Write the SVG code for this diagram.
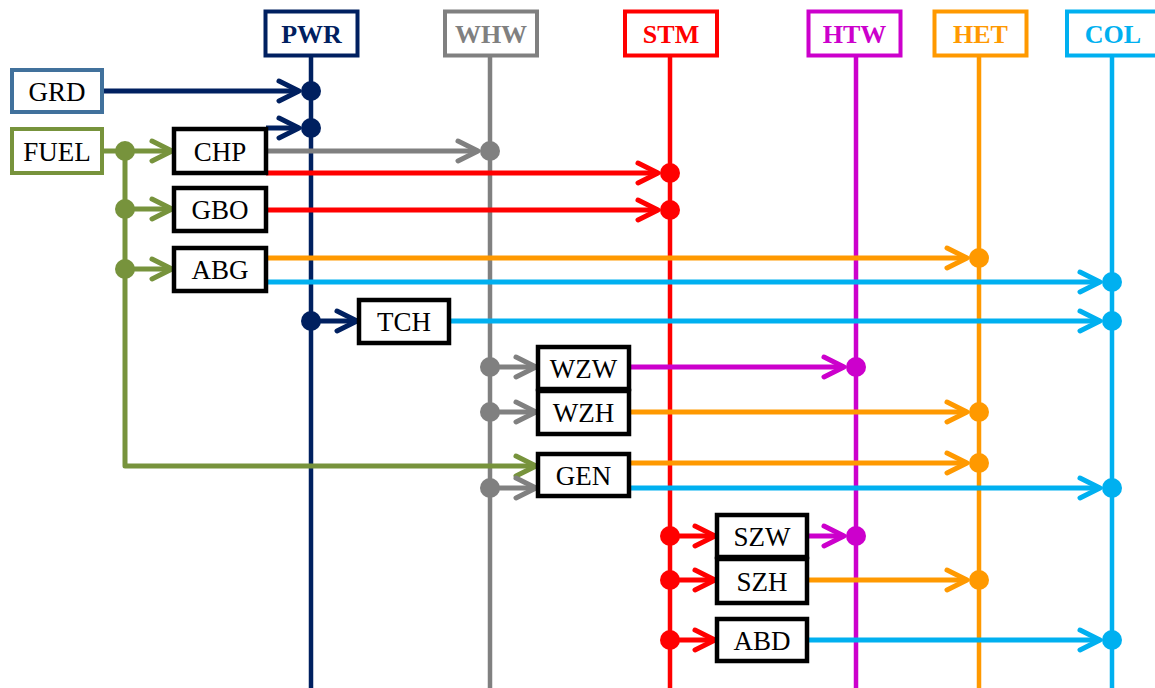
<svg xmlns="http://www.w3.org/2000/svg" width="1155" height="688" viewBox="0 0 1155 688">
<style>
.hdr{fill:#fff;stroke-width:4}
.hl{font-family:"Liberation Serif",serif;font-weight:bold;font-size:26px;text-anchor:middle}
.bx{fill:#fff;stroke:#000;stroke-width:4.5}
.bl{font-family:"Liberation Serif",serif;font-size:27px;text-anchor:middle;fill:#000}
.bus{stroke-width:4.5;fill:none}
.c{stroke-width:5;fill:none}
.navy{stroke:#002060}.gray{stroke:#808080}.red{stroke:#FF0000}.mag{stroke:#CC00CC}.org{stroke:#FF9900}.blu{stroke:#00B0F0}.grn{stroke:#77933C}
</style>
<defs>
<marker id="m-navy" markerUnits="userSpaceOnUse" viewBox="0 0 26 26" markerWidth="26" markerHeight="26" refX="22" refY="13" orient="auto" overflow="visible"><path d="M2,3 L22,13 L2,23" fill="none" stroke="#002060" stroke-width="5" stroke-linecap="round" stroke-linejoin="round"/></marker>
<marker id="m-gray" markerUnits="userSpaceOnUse" viewBox="0 0 26 26" markerWidth="26" markerHeight="26" refX="22" refY="13" orient="auto" overflow="visible"><path d="M2,3 L22,13 L2,23" fill="none" stroke="#808080" stroke-width="5" stroke-linecap="round" stroke-linejoin="round"/></marker>
<marker id="m-red" markerUnits="userSpaceOnUse" viewBox="0 0 26 26" markerWidth="26" markerHeight="26" refX="22" refY="13" orient="auto" overflow="visible"><path d="M2,3 L22,13 L2,23" fill="none" stroke="#FF0000" stroke-width="5" stroke-linecap="round" stroke-linejoin="round"/></marker>
<marker id="m-mag" markerUnits="userSpaceOnUse" viewBox="0 0 26 26" markerWidth="26" markerHeight="26" refX="22" refY="13" orient="auto" overflow="visible"><path d="M2,3 L22,13 L2,23" fill="none" stroke="#CC00CC" stroke-width="5" stroke-linecap="round" stroke-linejoin="round"/></marker>
<marker id="m-org" markerUnits="userSpaceOnUse" viewBox="0 0 26 26" markerWidth="26" markerHeight="26" refX="22" refY="13" orient="auto" overflow="visible"><path d="M2,3 L22,13 L2,23" fill="none" stroke="#FF9900" stroke-width="5" stroke-linecap="round" stroke-linejoin="round"/></marker>
<marker id="m-blu" markerUnits="userSpaceOnUse" viewBox="0 0 26 26" markerWidth="26" markerHeight="26" refX="22" refY="13" orient="auto" overflow="visible"><path d="M2,3 L22,13 L2,23" fill="none" stroke="#00B0F0" stroke-width="5" stroke-linecap="round" stroke-linejoin="round"/></marker>
<marker id="m-grn" markerUnits="userSpaceOnUse" viewBox="0 0 26 26" markerWidth="26" markerHeight="26" refX="22" refY="13" orient="auto" overflow="visible"><path d="M2,3 L22,13 L2,23" fill="none" stroke="#77933C" stroke-width="5" stroke-linecap="round" stroke-linejoin="round"/></marker>
</defs>
<rect width="1155" height="688" fill="#fff"/>

<g id="buses">
<line class="bus navy" x1="311" y1="56" x2="311" y2="688"/>
<line class="bus gray" x1="490" y1="56" x2="490" y2="688"/>
<line class="bus red" x1="670" y1="56" x2="670" y2="688"/>
<line class="bus mag" x1="856" y1="56" x2="856" y2="688"/>
<line class="bus org" x1="979" y1="56" x2="979" y2="688"/>
<line class="bus blu" x1="1112" y1="56" x2="1112" y2="688"/>
</g>

<g id="connectors">
<line class="c navy" x1="104" y1="91" x2="299" y2="91" marker-end="url(#m-navy)"/>
<line class="c navy" x1="266" y1="128" x2="299" y2="128" marker-end="url(#m-navy)"/>
<line class="c grn" x1="102" y1="151" x2="172" y2="151" marker-end="url(#m-grn)"/>
<line class="c grn" x1="125" y1="209" x2="172" y2="209" marker-end="url(#m-grn)"/>
<line class="c grn" x1="125" y1="269" x2="172" y2="269" marker-end="url(#m-grn)"/>
<polyline class="c grn" points="125,151 125,466 536,466" stroke-linejoin="round" marker-end="url(#m-grn)"/>
<line class="c gray" x1="266" y1="151" x2="478" y2="151" marker-end="url(#m-gray)"/>
<line class="c red" x1="266" y1="173" x2="658" y2="173" marker-end="url(#m-red)"/>
<line class="c red" x1="266" y1="210" x2="658" y2="210" marker-end="url(#m-red)"/>
<line class="c org" x1="266" y1="258" x2="967" y2="258" marker-end="url(#m-org)"/>
<line class="c blu" x1="266" y1="282" x2="1100" y2="282" marker-end="url(#m-blu)"/>
<line class="c navy" x1="311" y1="321" x2="357" y2="321" marker-end="url(#m-navy)"/>
<line class="c blu" x1="449" y1="321" x2="1100" y2="321" marker-end="url(#m-blu)"/>
<line class="c gray" x1="490" y1="367" x2="536" y2="367" marker-end="url(#m-gray)"/>
<line class="c mag" x1="629" y1="367" x2="844" y2="367" marker-end="url(#m-mag)"/>
<line class="c gray" x1="490" y1="412" x2="536" y2="412" marker-end="url(#m-gray)"/>
<line class="c org" x1="629" y1="412" x2="967" y2="412" marker-end="url(#m-org)"/>
<line class="c gray" x1="490" y1="488" x2="536" y2="488" marker-end="url(#m-gray)"/>
<line class="c org" x1="629" y1="463" x2="967" y2="463" marker-end="url(#m-org)"/>
<line class="c blu" x1="629" y1="488" x2="1100" y2="488" marker-end="url(#m-blu)"/>
<line class="c red" x1="670" y1="536" x2="715" y2="536" marker-end="url(#m-red)"/>
<line class="c mag" x1="807" y1="536" x2="844" y2="536" marker-end="url(#m-mag)"/>
<line class="c red" x1="670" y1="580" x2="715" y2="580" marker-end="url(#m-red)"/>
<line class="c org" x1="807" y1="580" x2="967" y2="580" marker-end="url(#m-org)"/>
<line class="c red" x1="670" y1="640" x2="715" y2="640" marker-end="url(#m-red)"/>
<line class="c blu" x1="807" y1="640" x2="1100" y2="640" marker-end="url(#m-blu)"/>
<g id="dots">
<circle cx="311" cy="91" r="10" fill="#002060"/>
<circle cx="311" cy="128" r="10" fill="#002060"/>
<circle cx="311" cy="321" r="10" fill="#002060"/>
<circle cx="125" cy="151" r="10" fill="#77933C"/>
<circle cx="125" cy="209" r="10" fill="#77933C"/>
<circle cx="125" cy="269" r="10" fill="#77933C"/>
<circle cx="490" cy="151" r="10" fill="#808080"/>
<circle cx="490" cy="367" r="10" fill="#808080"/>
<circle cx="490" cy="412" r="10" fill="#808080"/>
<circle cx="490" cy="488" r="10" fill="#808080"/>
<circle cx="670" cy="173" r="10" fill="#FF0000"/>
<circle cx="670" cy="210" r="10" fill="#FF0000"/>
<circle cx="670" cy="536" r="10" fill="#FF0000"/>
<circle cx="670" cy="580" r="10" fill="#FF0000"/>
<circle cx="670" cy="640" r="10" fill="#FF0000"/>
<circle cx="856" cy="367" r="10" fill="#CC00CC"/>
<circle cx="856" cy="536" r="10" fill="#CC00CC"/>
<circle cx="979" cy="258" r="10" fill="#FF9900"/>
<circle cx="979" cy="412" r="10" fill="#FF9900"/>
<circle cx="979" cy="463" r="10" fill="#FF9900"/>
<circle cx="979" cy="580" r="10" fill="#FF9900"/>
<circle cx="1112" cy="282" r="10" fill="#00B0F0"/>
<circle cx="1112" cy="321" r="10" fill="#00B0F0"/>
<circle cx="1112" cy="488" r="10" fill="#00B0F0"/>
<circle cx="1112" cy="640" r="10" fill="#00B0F0"/>
</g>
</g>

<g id="PWR"><rect class="hdr" x="265.5" y="11.5" width="92" height="44" stroke="#002060"/><text class="hl" x="311.5" y="43" fill="#002060">PWR</text></g>
<g id="WHW"><rect class="hdr" x="445" y="11.5" width="92" height="44" stroke="#808080"/><text class="hl" x="491" y="43" fill="#808080">WHW</text></g>
<g id="STM"><rect class="hdr" x="625" y="11.5" width="92" height="44" stroke="#FF0000"/><text class="hl" x="671" y="43" fill="#FF0000">STM</text></g>
<g id="HTW"><rect class="hdr" x="808.5" y="11.5" width="92" height="44" stroke="#CC00CC"/><text class="hl" x="854.5" y="43" fill="#CC00CC">HTW</text></g>
<g id="HET"><rect class="hdr" x="934.5" y="11.5" width="92" height="44" stroke="#FF9900"/><text class="hl" x="980.5" y="43" fill="#FF9900">HET</text></g>
<g id="COL"><rect class="hdr" x="1067" y="11.5" width="92" height="44" stroke="#00B0F0"/><text class="hl" x="1113" y="43" fill="#00B0F0">COL</text></g>

<g id="GRD"><rect x="12" y="70" width="90" height="42" fill="#fff" stroke="#41719C" stroke-width="4"/><text class="bl" x="57" y="100.5">GRD</text></g>
<g id="FUEL"><rect x="12" y="129" width="90" height="44" fill="#fff" stroke="#77933C" stroke-width="4"/><text class="bl" x="57" y="160.5">FUEL</text></g>
<g id="CHP"><rect class="bx" x="174" y="129" width="92" height="44"/><text class="bl" x="220" y="160.5">CHP</text></g>
<g id="GBO"><rect class="bx" x="174" y="188" width="92" height="43"/><text class="bl" x="220" y="219">GBO</text></g>
<g id="ABG"><rect class="bx" x="174" y="248" width="92" height="43"/><text class="bl" x="220" y="279">ABG</text></g>
<g id="TCH"><rect class="bx" x="359" y="300" width="90" height="43"/><text class="bl" x="404" y="331">TCH</text></g>
<g id="WZW"><rect class="bx" x="538" y="347" width="91" height="42"/><text class="bl" x="583.5" y="377.5">WZW</text></g>
<g id="WZH"><rect class="bx" x="538" y="391" width="91" height="43"/><text class="bl" x="583.5" y="422">WZH</text></g>
<g id="GEN"><rect class="bx" x="538" y="454" width="91" height="42"/><text class="bl" x="583.5" y="484.5">GEN</text></g>
<g id="SZW"><rect class="bx" x="717" y="515" width="90" height="42"/><text class="bl" x="762" y="545.5">SZW</text></g>
<g id="SZH"><rect class="bx" x="717" y="559" width="90" height="44"/><text class="bl" x="762" y="590.5">SZH</text></g>
<g id="ABD"><rect class="bx" x="717" y="619" width="90" height="42"/><text class="bl" x="762" y="649.5">ABD</text></g>
</svg>
